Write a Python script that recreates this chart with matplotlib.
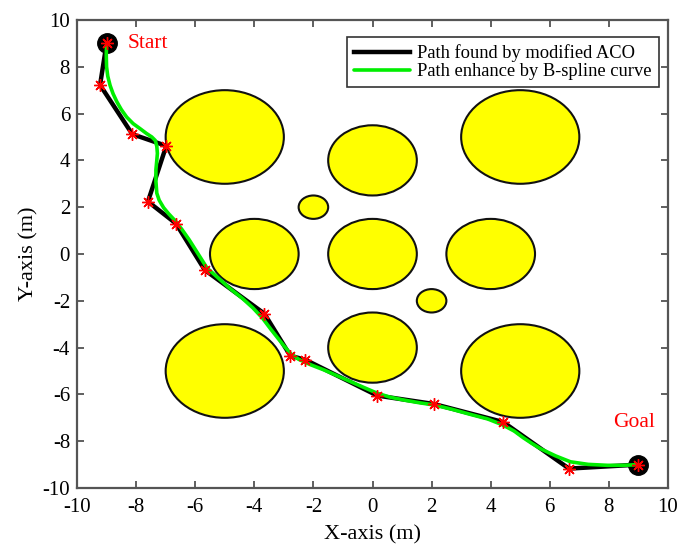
import matplotlib
matplotlib.use('Agg')
import matplotlib.pyplot as plt
from matplotlib.patches import Circle

# obstacles: centre x, centre y, radius
obs_x = [-5, 0, 5, -2, -4, 0, 4, 2, -5, 0, 5]
obs_y = [5, 4, 5, 2, 0, 0, 0, -2, -5, -4, -5]
obs_r = [2, 1.5, 2, 0.5, 1.5, 1.5, 1.5, 0.5, 2, 1.5, 2]

# path found by modified ACO (nodes)
aco_x = [-9.0, -9.22, -8.13, -6.98, -7.6, -6.65, -5.68, -3.66, -2.78, -2.27,
         0.16, 2.08, 4.42, 6.65, 9.0]
aco_y = [9.0, 7.22, 5.12, 4.62, 2.24, 1.3, -0.68, -2.55, -4.35, -4.52,
         -6.05, -6.41, -7.18, -9.17, -9.0]

# B-spline enhanced path
bs_x = [-9.0, -9.01, -9.0, -8.96, -8.88, -8.78, -8.65, -8.5, -8.32, -8.1,
        -7.86, -7.65, -7.47, -7.35, -7.3, -7.28, -7.3, -7.33, -7.33, -7.3,
        -7.22, -7.07, -6.9, -6.7, -6.45, -6.2, -5.9, -5.6, -5.2, -4.8,
        -4.4, -4.05, -3.73, -3.45, -3.2, -3.0, -2.78, -2.5, -2.1, -1.65,
        -1.2, -0.75, -0.3, 0.16, 0.6, 1.1, 1.6, 2.08, 2.7, 3.3,
        3.9, 4.4, 4.8, 5.1, 5.4, 5.7, 6.2, 6.7, 7.3, 7.95,
        8.5, 9.0]
bs_y = [9.0, 8.5, 8.0, 7.6, 7.2, 6.85, 6.5, 6.17, 5.85, 5.57,
        5.35, 5.15, 5.0, 4.85, 4.6, 4.3, 4.0, 3.6, 3.1, 2.6,
        2.3, 1.98, 1.72, 1.45, 1.05, 0.6, 0.0, -0.6, -1.05, -1.5,
        -1.9, -2.3, -2.73, -3.2, -3.6, -3.92, -4.25, -4.5, -4.73, -4.95,
        -5.2, -5.45, -5.7, -5.95, -6.12, -6.25, -6.36, -6.45, -6.64, -6.85,
        -7.05, -7.3, -7.57, -7.85, -8.1, -8.33, -8.63, -8.88, -8.99, -9.03,
        -9.03, -9.0]

start = (-9, 9)
goal = (9, -9)

plt.rcParams['font.family'] = ['Liberation Serif', 'DejaVu Serif']
plt.rcParams['axes.unicode_minus'] = False

fig = plt.figure(figsize=(6.84, 5.5), dpi=100)
ax = fig.add_axes([0.1126, 0.1127, 0.864, 0.851])

for cx, cy, r in zip(obs_x, obs_y, obs_r):
    ax.add_patch(Circle((cx, cy), r, facecolor='#FFFF00', edgecolor='#111111',
                        linewidth=1.5, zorder=1))

ax.plot([start[0], goal[0]], [start[1], goal[1]], 'o', color='black',
        markersize=14, linestyle='none', zorder=2)
ax.plot(aco_x, aco_y, color='black', linewidth=3.2, solid_joinstyle='round',
        label='Path found by modified ACO', zorder=3)
ax.plot(bs_x, bs_y, color='#00EE00', linewidth=2.6, solid_joinstyle='round',
        solid_capstyle='round', label='Path enhance by B-spline curve', zorder=4)
ax.plot(aco_x, aco_y, linestyle='none', marker=(8, 2, 0), markersize=9,
        markeredgecolor='red', markeredgewidth=1.0, zorder=5)

ax.text(-8.3, 9.0, 'Start', color='red', fontsize=15.5, ha='left', va='center')
ax.text(8.15, -7.2, 'Goal', color='red', fontsize=15.5, ha='left', va='center')

ax.set_xlim(-10, 10)
ax.set_ylim(-10, 10)
ax.set_xticks(range(-10, 11, 2))
ax.set_yticks(range(-10, 11, 2))
ax.tick_params(direction='in', top=True, right=True, length=5, width=1.2,
               color='#444444', labelsize=15)
ax.tick_params(axis='x', pad=7)
ax.tick_params(axis='y', pad=5)
for s in ax.spines.values():
    s.set_color('#555555')
    s.set_linewidth(1.6)

ax.set_xlabel('X-axis (m)', fontsize=16, labelpad=6)
ax.set_ylabel('Y-axis (m)', fontsize=16, labelpad=3)

leg = ax.legend(loc='upper right', bbox_to_anchor=(0.985, 0.964), borderaxespad=0,
                fontsize=13.3, fancybox=False, framealpha=1, handlelength=3.0,
                handletextpad=0.4, borderpad=0.4, labelspacing=0.05)
leg.get_frame().set_edgecolor('#333333')
leg.get_frame().set_linewidth(1.2)

fig.savefig('out.png', dpi=100)
